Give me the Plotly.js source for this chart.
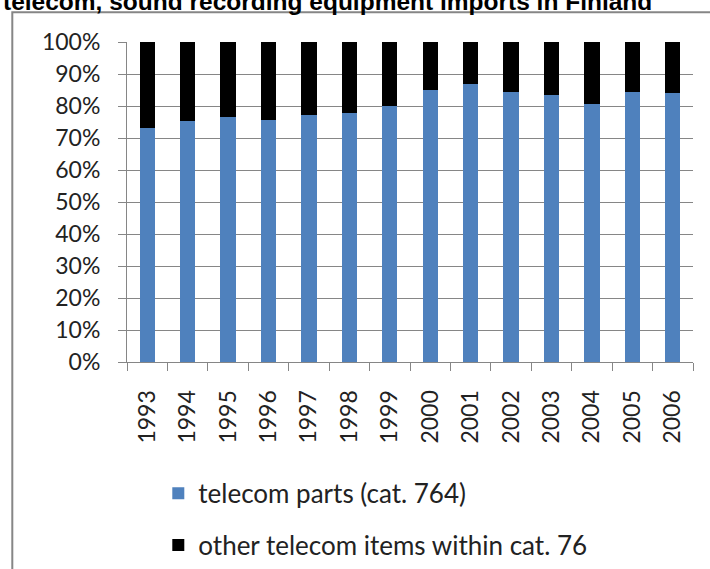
<!DOCTYPE html>
<html>
<head>
<meta charset="utf-8">
<script src="https://cdn.plot.ly/plotly-3.0.1.min.js"></script>
<style>html,body{margin:0;padding:0;background:#fff;}#chart{width:710px;height:569px;}</style>
</head>
<body>
<div id="chart"></div>
<script>
const years = ['1993','1994','1995','1996','1997','1998','1999','2000','2001','2002','2003','2004','2005','2006'];
const telecomParts = [73.2, 75.3, 76.5, 75.6, 77.3, 77.7, 80.0, 84.9, 86.9, 84.5, 83.3, 80.5, 84.5, 84.1];
const otherTelecom = [26.8, 24.7, 23.5, 24.4, 22.7, 22.3, 20.0, 15.1, 13.1, 15.5, 16.7, 19.5, 15.5, 15.9];
const seriesNames = ['telecom parts (cat. 764)', 'other telecom items within cat. 76'];
const yTicks = [0,10,20,30,40,50,60,70,80,90,100];
const yTickText = ['0%','10%','20%','30%','40%','50%','60%','70%','80%','90%','100%'];
const titleText = 'telecom, sound recording equipment imports in Finland';

const W = 710, H = 569;
const L = 126.7, R = 17.3, T = 41.7, B = 207;
const pw = W - L - R, ph = H - T - B;
const px2x = p => (p - L) / pw;
const py2y = p => (H - B - p) / ph;

const data = [
  {type:'bar', x: years, y: telecomParts, name: seriesNames[0], legendgroup:'a',
   marker:{color:'#4F81BD'}, hoverinfo:'none'},
  {type:'bar', x: years, y: otherTelecom, name: seriesNames[1], legendgroup:'b',
   marker:{color:'#000000'}, hoverinfo:'none'}
];

const layout = {
  width: W, height: H,
  margin: {l: L, r: R, t: T, b: B, pad: 0, autoexpand: false},
  paper_bgcolor: '#ffffff', plot_bgcolor: '#ffffff',
  barmode: 'stack', bargap: 0.62,
  font: {family: 'Lato, "Open Sans", sans-serif', color: '#222222', size: 23},
  title: {text: '<b>' + titleText + '</b>', x: 3/W, xanchor: 'left', xref: 'container',
          y: 1 - 1/H, yanchor: 'middle', yref: 'container',
          font: {family: '"Liberation Sans", Arial, sans-serif', size: 24.5, color: '#000000'}},
  xaxis: {type: 'category', tickson: 'boundaries', ticks: 'outside', ticklen: 8, tickcolor: '#868686',
          tickangle: -90, showline: true, linecolor: '#868686', linewidth: 1, showgrid: false,
          automargin: false, ticklabelstandoff: 18, tickfont: {size: 23, color: '#222222'}, fixedrange: true},
  yaxis: {range: [0, 100], tickvals: yTicks, ticktext: yTickText, ticks: 'outside', ticklen: 8,
          tickcolor: '#868686', showline: true, linecolor: '#868686', linewidth: 1,
          showgrid: true, gridcolor: '#868686', gridwidth: 1, zeroline: false, automargin: false,
          ticklabelstandoff: 13, tickfont: {size: 23, color: '#222222'}, fixedrange: true},
  showlegend: true,
  legend: {x: px2x(158), xanchor: 'left', y: py2y(470), yanchor: 'top', orientation: 'v',
           traceorder: 'grouped', tracegroupgap: 15, font: {size: 26, color: '#222222'},
           bgcolor: 'rgba(0,0,0,0)'},
  shapes: [
    {type: 'rect', xref: 'paper', yref: 'paper', x0: px2x(12), x1: px2x(730), y0: py2y(600), y1: py2y(12),
     line: {color: '#868686', width: 2}, fillcolor: 'rgba(0,0,0,0)', layer: 'below'}
  ]
};

Plotly.newPlot('chart', data, layout, {displayModeBar: false, staticPlot: true});
</script>
</body>
</html>
